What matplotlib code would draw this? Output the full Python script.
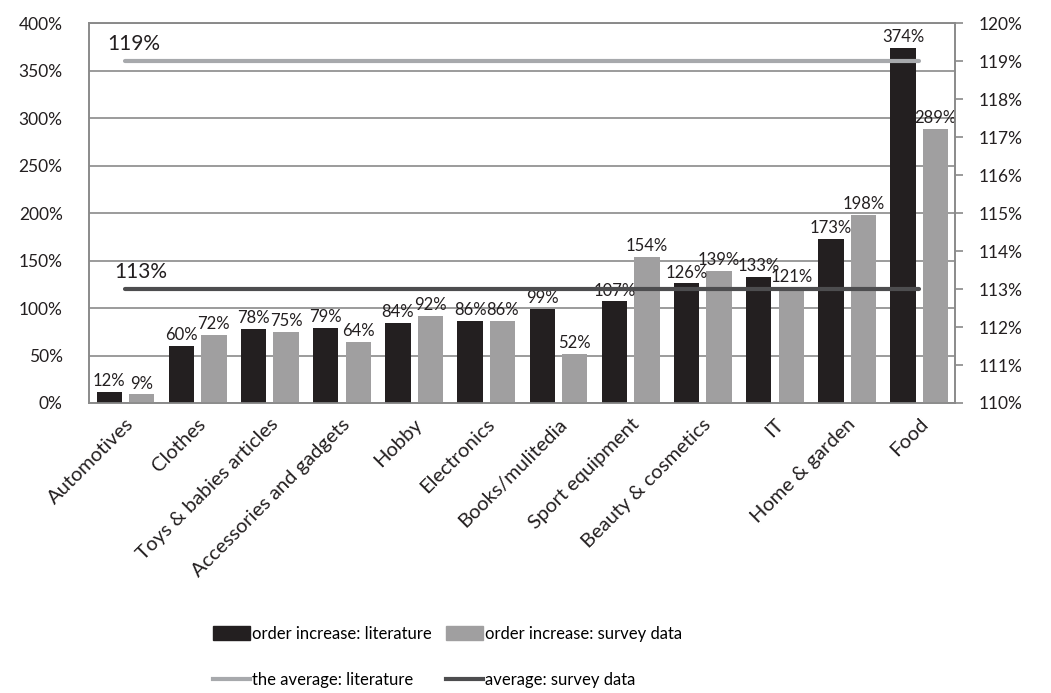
import matplotlib.pyplot as plt
from matplotlib.ticker import FuncFormatter
from matplotlib.patches import Patch
from matplotlib.lines import Line2D
import numpy as np

plt.rcParams['font.family'] = ['Lato', 'DejaVu Sans']

categories = ['Automotives', 'Clothes', 'Toys & babies articles', 'Accessories and gadgets',
              'Hobby', 'Electronics', 'Books/mulitedia', 'Sport equipment',
              'Beauty & cosmetics', 'IT', 'Home & garden', 'Food']
literature = [12, 60, 78, 79, 84, 86, 99, 107, 126, 133, 173, 374]
survey = [9, 72, 75, 64, 92, 86, 52, 154, 139, 121, 198, 289]
avg_literature = 119
avg_survey = 113

black = '#231f20'
gray = '#a09fa0'
line_light = '#a7a9ac'
line_dark = '#4d4d4f'
grid_col = '#8a8a8a'

def pct(v, pos):
    return f'{v:.0f}%'

def main():
    fig = plt.figure(figsize=(10.51, 6.93), dpi=100)
    ax = fig.add_axes([0.0847, 0.4185, 0.824, 0.548])
    x = np.arange(len(categories))
    w = 0.35

    ax.bar(x - 0.22, literature, width=w, color=black, zorder=3)
    ax.bar(x + 0.23, survey, width=w, color=gray, zorder=3)

    for i in range(len(x)):
        ax.text(x[i] - 0.22, literature[i] + 3, f'{literature[i]}%', ha='center', va='bottom',
                fontsize=12, color=black, zorder=4)
        ax.text(x[i] + 0.23, survey[i] + 3, f'{survey[i]}%', ha='center', va='bottom',
                fontsize=12, color=black, zorder=4)

    ax.set_xlim(-0.5, len(categories) - 0.5)
    ax.set_ylim(0, 400)
    ax.set_yticks(range(0, 401, 50))
    ax.yaxis.set_major_formatter(FuncFormatter(pct))
    ax.yaxis.grid(True, color=grid_col, linewidth=1.2, zorder=0)
    ax.set_axisbelow(True)
    ax.tick_params(axis='y', length=0, labelsize=12.5, labelcolor=black, pad=19)
    ax.tick_params(axis='x', length=0, labelsize=14.5, labelcolor=black, pad=9)
    ax.set_xticks(x)
    ax.set_xticklabels(categories, rotation=45, ha='right', rotation_mode='anchor')
    for s in ax.spines.values():
        s.set_color(grid_col)
        s.set_linewidth(1.2)

    ax2 = ax.twinx()
    ax2.set_ylim(110, 120)
    ax2.set_yticks(range(110, 121, 1))
    ax2.yaxis.set_major_formatter(FuncFormatter(pct))
    ax2.tick_params(axis='y', length=6, width=1.2, color=grid_col, labelsize=12.5,
                    labelcolor=black, pad=11)
    for s in ax2.spines.values():
        s.set_color(grid_col)
        s.set_linewidth(1.2)

    ax2.plot(x, [avg_literature] * len(x), color=line_light, linewidth=3,
             solid_capstyle='round', zorder=5)
    ax2.plot(x, [avg_survey] * len(x), color=line_dark, linewidth=3,
             solid_capstyle='round', zorder=5)
    ax2.annotate(f'{avg_literature}%', (x[0], avg_literature), xytext=(-13, 5),
                 textcoords='offset points', fontsize=15, color=black, va='bottom')
    ax2.annotate(f'{avg_survey}%', (x[0], avg_survey), xytext=(-8, 5),
                 textcoords='offset points', fontsize=15, color=black, va='bottom')

    handles = [Patch(color=black), Line2D([], [], color=line_light, linewidth=3),
               Patch(color=gray), Line2D([], [], color=line_dark, linewidth=3)]
    labels = ['order increase: literature', 'the average: literature',
              'order increase: survey data', 'average: survey data']
    fig.legend(handles, labels, ncol=2, loc='center', bbox_to_anchor=(0.426, 0.052),
               frameon=False, fontsize=12, labelspacing=1.8, handlelength=2.2,
               handleheight=0.9, handletextpad=0.15, columnspacing=0.85)

    fig.savefig('out.png', dpi=100)

if __name__ == '__main__':
    main()
